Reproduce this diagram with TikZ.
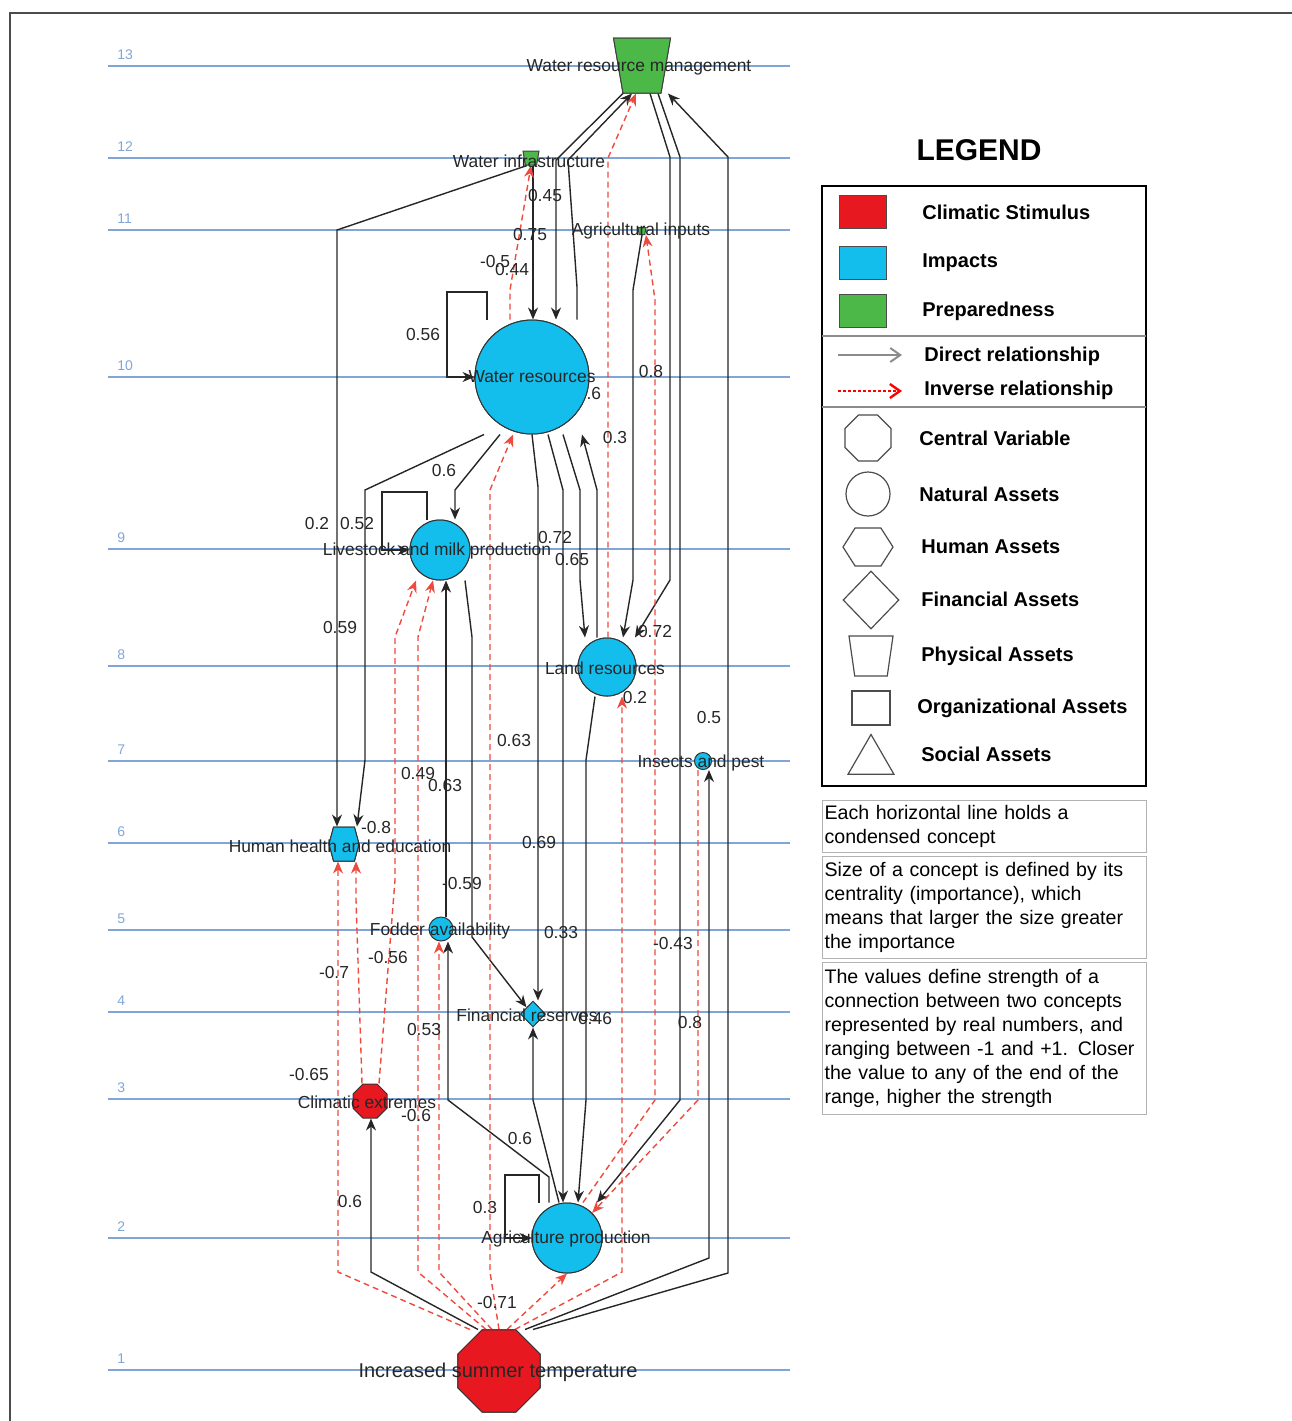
\documentclass[tikz,border=0pt]{standalone}
\usepackage{fontspec}
\setmainfont{Liberation Sans}
\usepackage{tikz}
\usetikzlibrary{shapes.geometric, shapes.symbols, arrows.meta}
\usepackage{xcolor}

\definecolor{stimred}{RGB}{232,24,32}
\definecolor{impblue}{RGB}{20,190,236}
\definecolor{prepgreen}{RGB}{76,184,72}
\definecolor{lvlblue}{RGB}{128,166,216}
\definecolor{invred}{RGB}{238,74,62}

\tikzset{
  level/.style={lvlblue, line width=0.9pt},
  lvlno/.style={lvlblue, font=\fontsize{7}{8}\selectfont, anchor=west, inner sep=0pt},
  direct/.style={-{Stealth[length=6pt,width=5pt]}, line width=0.7pt, black!85},
  inverse/.style={-{Stealth[length=6pt,width=5pt]}, line width=0.7pt, invred, dash pattern=on 3pt off 2pt},
  wlabel/.style={font=\fontsize{8.7}{10}\selectfont, inner sep=0pt, text=black!85},
  ntext/.style={font=\fontsize{8.7}{10}\selectfont, inner sep=0pt, text=black!85},
  impact/.style={circle, draw=black!80, fill=impblue, line width=0.5pt, inner sep=0pt},
  stimulus/.style={regular polygon, regular polygon sides=8, draw=black!80, fill=stimred, line width=0.5pt, inner sep=0pt},
  prep/.style={trapezium, trapezium stretches=true, shape border rotate=180, draw=black!75, fill=prepgreen, line width=0.5pt, inner sep=1pt},
  legtext/.style={font=\bfseries\fontsize{10}{12}\selectfont, anchor=west, inner sep=0pt},
  legshape/.style={draw=black!70, line width=0.6pt, inner sep=0pt},
  swatch/.style={draw=black!70, line width=0.6pt, minimum width=23.5pt, minimum height=16.5pt, inner sep=0pt},
  notebox/.style={draw=black!30, line width=0.6pt, anchor=north west, font=\fontsize{9.8}{12}\selectfont, align=left, text width=160pt, inner xsep=1pt, inner ysep=0pt}
}

\begin{document}
\begin{tikzpicture}[x=0.5pt, y=-0.5pt]
  \useasboundingbox (0,0) rectangle (1292,1421);
  \draw[black!70, line width=0.8pt] (10,1421) -- (10,13) -- (1292,13);

  % levels
  \foreach \n/\y in {13/66,12/158,11/230,10/377,9/549,8/666,7/761,6/843,5/930,4/1012,3/1099,2/1238,1/1370}
  {
    \draw[level] (108,\y) -- (790,\y);
    \node[lvlno] (lv\n) at (117,\y-11) {\n};
  }

  % node places
  \node[prep, minimum width=28.5pt, minimum height=27.5pt, trapezium angle=76] (wrm) at (642,65.5) {};
  \node[prep, minimum width=8pt, minimum height=7pt, trapezium angle=78] (wi) at (531,158) {};
  \node[prep, minimum width=4pt, minimum height=3.5pt, trapezium angle=78] (ai) at (642,231) {};
  \node[impact, minimum size=57pt] (wr) at (532,377) {};
  \node[impact, minimum size=30pt] (lm) at (440,550) {};
  \node[impact, minimum size=29pt] (lr) at (607,667) {};
  \node[impact, minimum size=8.5pt] (ip) at (703,761) {};
  \node[impact, signal, signal to=east and west, signal pointer angle=150, minimum width=15pt, minimum height=17pt] (hh) at (344,844) {};
  \node[impact, minimum size=12pt] (fa) at (441,929) {};
  \node[impact, diamond, minimum width=12.5pt, minimum height=13pt] (fr) at (533,1014) {};
  \node[stimulus, minimum size=18.4pt] (ce) at (370,1101) {};
  \node[impact, minimum size=35pt] (ap) at (567,1238) {};
  \node[stimulus, minimum size=44.4pt] (ist) at (499,1371) {};

  % direct relationships
  \draw[direct] (533,0 |- wi.south) -- (533,0 |- wr.north);
  \draw[direct] ([shift={(-7pt,2.5pt)}]wrm.south) -- (556,160) -- (556,0 |- wr.north);
  \draw[direct] (577,0 |- wr.north) -- (577,287) -- (568,160) -- ([xshift=-5pt]wrm.south);
  \draw[direct] ([xshift=-2pt]wi.south) -- (337,230) -- (337,0 |- hh.north);
  \draw[direct] (487,0 |- wr.north) -- (487,292) -- (447,292) -- (447,377) -- (wr.west);
  \draw[direct] (484,0 |- wr.south) -- (365,490) -- (365,760) -- (357,0 |- hh.north);
  \draw[direct] (500,0 |- wr.south) -- (455,490) -- (455,0 |- lm.north);
  \draw[direct] (427,0 |- lm.north) -- (427,492) -- (382,492) -- (382,550) -- (lm.west);
  \draw[direct] (532,0 |- wr.south) -- (538,487) -- (538,0 |- fr.north);
  \draw[direct] (548,0 |- wr.south) -- (563,490) -- (563,0 |- ap.north);
  \draw[direct] (563,0 |- wr.south) -- (580,490) -- (580,580) -- (585,0 |- lr.north);
  \draw[direct] (597,0 |- lr.north) -- (597,490) -- (582,0 |- wr.south);
  \draw[direct] (ai.south) -- (633,290) -- (633,580) -- (623,0 |- lr.north);
  \draw[direct] ([xshift=4pt]wrm.south) -- (670,157) -- (670,580) -- (635,0 |- lr.north);
  \draw[direct] ([xshift=8pt]wrm.south) -- (680,157) -- (680,1100) -- (597,0 |- ap.north);
  \draw[direct] (595,0 |- lr.south) -- (586,760) -- (586,1100) -- (578,0 |- ap.north);
  \draw[direct] (446,0 |- fa.north) -- (446,0 |- lm.south);
  \draw[direct] (465,0 |- lm.south) -- (472,637) -- (472,937) -- (fr.north west);
  \draw[direct] (549,0 |- ap.north) -- (549,1177) -- (448,1100) -- (448,0 |- fa.south);
  \draw[direct] (559,0 |- ap.north) -- (533,1100) -- (fr.south);
  \draw[direct] (539,0 |- ap.north) -- (539,1175) -- (505,1175) -- (505,1238) -- (ap.west);
  \draw[direct] ([xshift=-10.5pt]ist.north) -- (371,1272) -- (371,0 |- ce.south);
  \draw[direct] ([xshift=13pt]ist.north) -- (709,1258) -- (709,0 |- ip.south);
  \draw[direct] ([xshift=17pt]ist.north) -- (728,1273) -- (728,157) -- ([xshift=13pt]wrm.south);

  % inverse relationships
  \draw[inverse] (510,0 |- wr.north) -- (510,290) -- (wi.south);
  \draw[inverse] (608,0 |- lr.north) -- (608,158) -- ([xshift=-3pt]wrm.south);
  \draw[inverse] (583,0 |- ap.north) -- (655,1100) -- (655,300) -- ([xshift=2pt]ai.south);
  \draw[inverse] (698,0 |- ip.south) -- (698,1100) -- (ap.north east);
  \draw[inverse] (362,0 |- ce.north) -- (356,900) -- (356,0 |- hh.south);
  \draw[inverse] (379,0 |- ce.north) -- (395,880) -- (395,637) -- (416,0 |- lm.south);
  \draw[inverse] ([xshift=-14.5pt]ist.north) -- (338,1272) -- (338,0 |- hh.south);
  \draw[inverse] ([xshift=-6.5pt]ist.north) -- (418,1272) -- (418,637) -- (433,0 |- lm.south);
  \draw[inverse] ([xshift=-3.5pt]ist.north) -- (439,1272) -- (439,0 |- fa.south);
  \draw[inverse] (ist.north) -- (490,1272) -- (490,490) -- (513,0 |- wr.south);
  \draw[inverse] ([xshift=4pt]ist.north) -- (ap.south);
  \draw[inverse] ([xshift=8pt]ist.north) -- (622,1272) -- (622,0 |- lr.south);

  % weights
  \foreach \x/\y/\w [count=\i] in {545/196/0.45, 530/235/0.75, 495/262/-0.5, 512/270/0.44,
      423/335/0.56, 651/371/0.8, 589/394/0.6, 615/437/0.3, 444/470/0.6, 317/523/0.2,
      357/523/0.52, 555/537/0.72, 572/559/0.65, 340/627/0.59, 655/631/0.72, 635/697/0.2,
      709/717/0.5, 514/740/0.63, 418/773/0.49, 445/785/0.63, 376/827/-0.8, 539/842/0.69,
      462/883/-0.59, 561/932/0.33, 673/943/-0.43, 388/957/-0.56, 334/972/-0.7, 595/1018/0.46,
      690/1022/0.8, 424/1029/0.53, 309/1074/-0.65, 416/1115/-0.6, 520/1138/0.6, 350/1201/0.6,
      485/1207/0.3, 497/1302/-0.71}
    \node[wlabel] (w\i) at (\x,\y) {\w};

  % redraw shapes over the weights, with their names on top
  \node[prep, minimum width=28.5pt, minimum height=27.5pt, trapezium angle=76] at (wrm) {};
  \node[ntext] (wrmt) at (639,67) {Water resource management};
  \node[ntext] (wit) at (529,161) {Water infrastructure};
  \node[ntext] (ait) at (641,231) {Agricultural inputs};
  \node[impact, minimum size=57pt, label={[ntext]center:Water resources}] at (wr) {};
  \node[impact, minimum size=30pt] at (lm) {};
  \node[ntext] (lmt) at (437,551) {Livestock and milk production};
  \node[impact, minimum size=29pt] at (lr) {};
  \node[ntext] (lrt) at (605,668) {Land resources};
  \node[ntext] (ipt) at (701,763) {Insects and pest};
  \node[impact, signal, signal to=east and west, signal pointer angle=150, minimum width=15pt, minimum height=17pt] at (hh) {};
  \node[ntext] (hht) at (340,846) {Human health and education};
  \node[ntext] (fat) at (440,931) {Fodder availability};
  \node[ntext] (frt) at (527,1015) {Financial reserves};
  \node[ntext] (cet) at (367,1102) {Climatic extremes};
  \node[impact, minimum size=35pt] at (ap) {};
  \node[ntext] (apt) at (566,1239) {Agriculture production};
  \node[stimulus, minimum size=44.4pt] at (ist) {};
  \node[ntext, font=\fontsize{10}{12}\selectfont] (istt) at (498,1372) {Increased summer temperature};

  % legend
  \node[font=\bfseries\fontsize{15}{18}\selectfont] (legtitle) at (979,150) {LEGEND};
  \draw[line width=1.3pt] (822,186) rectangle (1146,786);
  \draw[black!45, line width=0.6pt] (822,336) -- (1146,336) (822,407) -- (1146,407);
  \foreach \y/\c/\t in {212/stimred/Climatic Stimulus, 263/impblue/Impacts, 311/prepgreen/Preparedness}
  {
    \node[swatch, fill=\c] (sw\y) at (863,\y) {};
    \node[legtext] (lt\y) at (922,\y) {\t};
  }
  \coordinate (da) at (838,355);
  \coordinate (db) at (902,355);
  \coordinate (ia) at (838,391);
  \coordinate (ib) at (902,391);
  \draw[black!45, line width=1pt, -{Straight Barb[length=5pt,width=7pt]}] (da) -- (db);
  \draw[red, line width=1.2pt, dash pattern=on 1.5pt off 1pt, -{Straight Barb[length=5pt,width=7pt]}] (ia) -- (ib);
  \node[legtext] (ld) at (924,356) {Direct relationship};
  \node[legtext] (li) at (924,390) {Inverse relationship};

  \node[legshape, regular polygon, regular polygon sides=8, minimum size=24.9pt] (s1) at (868,438) {};
  \node[legshape, circle, minimum size=22pt] (s2) at (868,494) {};
  \node[legshape, signal, signal to=east and west, signal pointer angle=115, minimum width=25pt, minimum height=19pt] (s3) at (868,547) {};
  \node[legshape, diamond, minimum width=28pt, minimum height=29pt] (s4) at (871,600) {};
  \node[legshape, trapezium, trapezium stretches=true, shape border rotate=180, trapezium angle=80, inner sep=1pt, minimum width=22pt, minimum height=20pt] (s5) at (871,656) {};
  \node[legshape, rectangle, minimum width=19pt, minimum height=17pt] (s6) at (871,708) {};
  \node[legshape, regular polygon, regular polygon sides=3, minimum size=26.5pt] (s7) at (871,761) {};
  \node[legtext] (l1) at (919,438) {Central Variable};
  \node[legtext] (l2) at (919,494) {Natural Assets};
  \node[legtext] (l3) at (921,547) {Human Assets};
  \node[legtext] (l4) at (921,599) {Financial Assets};
  \node[legtext] (l5) at (921,656) {Physical Assets};
  \node[legtext] (l6) at (917,708) {Organizational Assets};
  \node[legtext] (l7) at (921,754) {Social Assets};

  % notes
  \node[notebox, minimum height=26pt] (note1) at (822,800)
    {Each horizontal line holds a\\condensed concept};
  \node[notebox, minimum height=51pt] (note2) at (822,856)
    {Size of a concept is defined by its\\centrality (importance), which\\means that larger the size greater\\the importance};
  \node[notebox, minimum height=76pt] (note3) at (822,962)
    {The values define strength of a\\connection between two concepts\\represented by real numbers, and\\ranging between -1 and +1. Closer\\the value to any of the end of the\\range, higher the strength};
\end{tikzpicture}
\end{document}
